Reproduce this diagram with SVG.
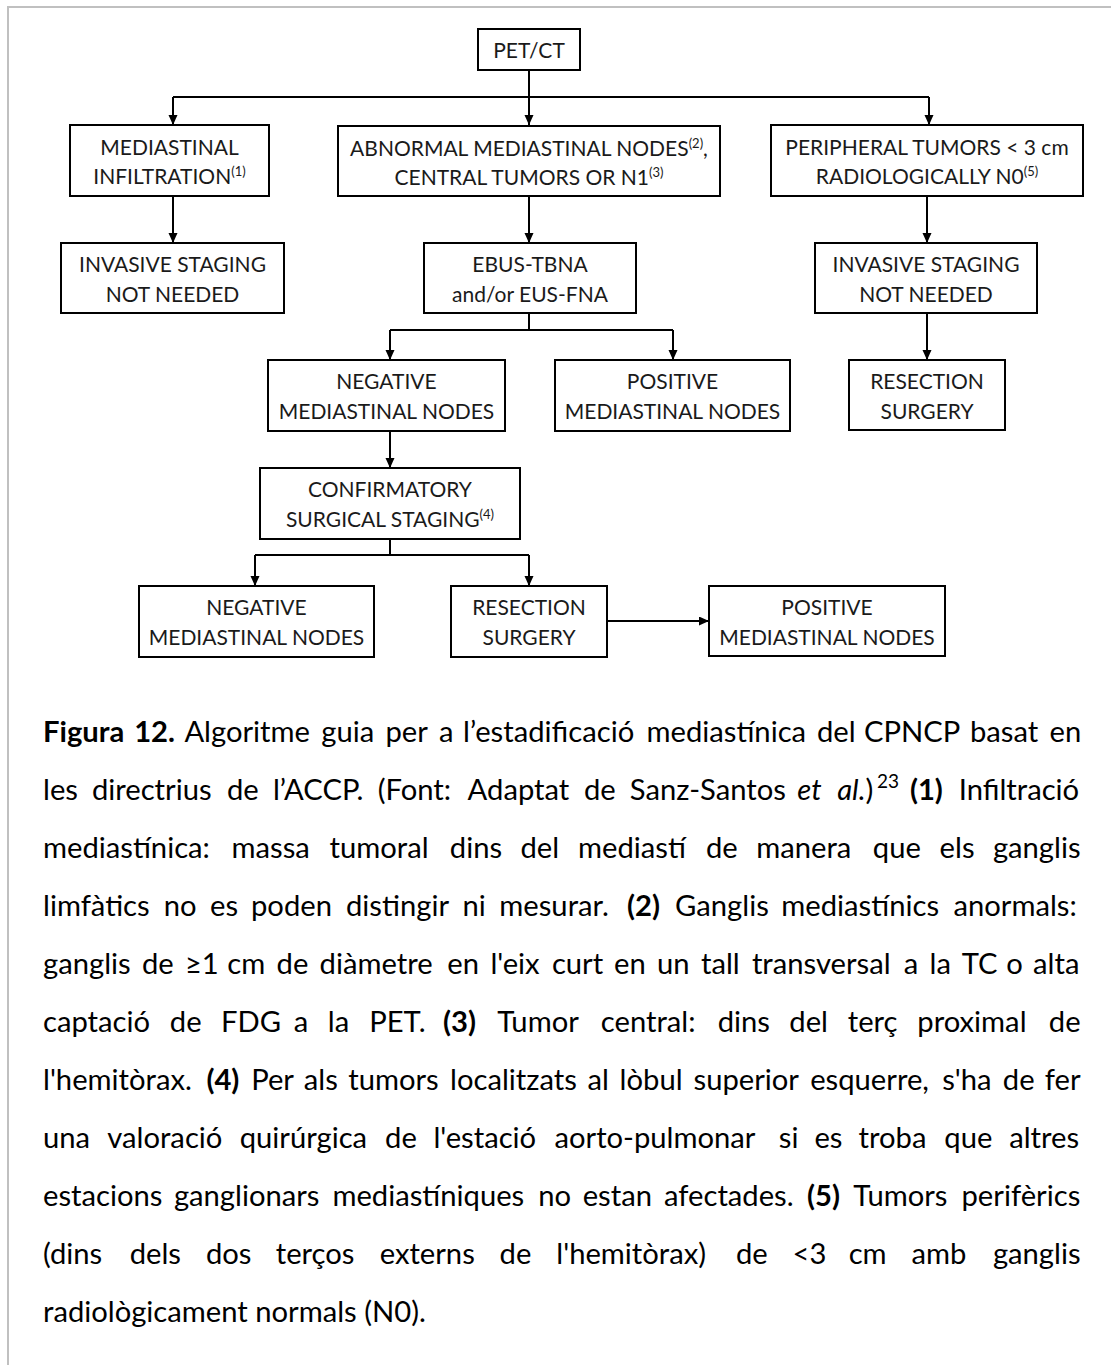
<svg xmlns="http://www.w3.org/2000/svg" width="1111" height="1365" viewBox="0 0 1111 1365">
  <style>
    .box rect { fill: #ffffff; stroke: #000000; stroke-width: 2; }
    .box text { font-family: Lato, "Open Sans", "Liberation Sans", sans-serif; font-size: 21px; fill: #1a1a1a; text-anchor: middle; }
    .sup { font-size: 13px; }
    .wire { fill: none; stroke: #000000; stroke-width: 2; }
    .cap { font-family: Lato, "Open Sans", "Liberation Sans", sans-serif; font-size: 29.2px; fill: #000000; }
    .b { font-weight: bold; }
    .i { font-style: italic; }
    .frame { stroke: #c0c0c0; stroke-width: 2; fill: none; }
  </style>
  <defs>
    <marker id="arrow" markerUnits="userSpaceOnUse" markerWidth="10" markerHeight="10" refX="10" refY="4.5" orient="auto">
      <path d="M0,0 L10,4.5 L0,9 z" fill="#000000"/>
    </marker>
  </defs>

  <rect width="1111" height="1365" fill="#ffffff"/>
  <!-- page frame (top and left edges) -->
  <path class="frame" d="M8,1365 V7 H1111"/>

  <!-- connectors -->
  <g id="connectors">
    <path class="wire" d="M529,70 V125" marker-end="url(#arrow)"/>
    <path class="wire" d="M173,97 H929"/>
    <path class="wire" d="M173,97 V125" marker-end="url(#arrow)"/>
    <path class="wire" d="M929,97 V125" marker-end="url(#arrow)"/>
    <path class="wire" d="M173,196 V243" marker-end="url(#arrow)"/>
    <path class="wire" d="M529,196 V243" marker-end="url(#arrow)"/>
    <path class="wire" d="M927,196 V243" marker-end="url(#arrow)"/>
    <path class="wire" d="M529,313 V330"/>
    <path class="wire" d="M390,330 H673"/>
    <path class="wire" d="M390,330 V360" marker-end="url(#arrow)"/>
    <path class="wire" d="M673,330 V360" marker-end="url(#arrow)"/>
    <path class="wire" d="M927,313 V360" marker-end="url(#arrow)"/>
    <path class="wire" d="M390,431 V468" marker-end="url(#arrow)"/>
    <path class="wire" d="M390,539 V555"/>
    <path class="wire" d="M255,555 H529"/>
    <path class="wire" d="M255,555 V586" marker-end="url(#arrow)"/>
    <path class="wire" d="M529,555 V586" marker-end="url(#arrow)"/>
    <path class="wire" d="M607,621 H709" marker-end="url(#arrow)"/>
  </g>

  <!-- nodes -->
  <g id="pet-ct" class="box">
    <rect x="478" y="29" width="102" height="41"/>
    <text x="529" y="58">PET/CT</text>
  </g>
  <g id="mediastinal-infiltration" class="box">
    <rect x="70" y="125" width="199" height="71"/>
    <text x="169.5" y="155">MEDIASTINAL</text>
    <text x="169.5" y="184">INFILTRATION<tspan class="sup" dy="-8">(1)</tspan></text>
  </g>
  <g id="abnormal-nodes" class="box">
    <rect x="338" y="126" width="382" height="70"/>
    <text x="529" y="156">ABNORMAL MEDIASTINAL NODES<tspan class="sup" dy="-8">(2)</tspan><tspan dy="8">,</tspan></text>
    <text x="529" y="185">CENTRAL TUMORS OR N1<tspan class="sup" dy="-8">(3)</tspan></text>
  </g>
  <g id="peripheral-tumors" class="box">
    <rect x="771" y="125" width="312" height="71"/>
    <text x="927" y="155">PERIPHERAL TUMORS &lt; 3 cm</text>
    <text x="927" y="184">RADIOLOGICALLY N0<tspan class="sup" dy="-8">(5)</tspan></text>
  </g>
  <g id="invasive-left" class="box">
    <rect x="61" y="243" width="223" height="70"/>
    <text x="172.5" y="272">INVASIVE STAGING</text>
    <text x="172.5" y="302">NOT NEEDED</text>
  </g>
  <g id="ebus" class="box">
    <rect x="424" y="243" width="212" height="70"/>
    <text x="530" y="272">EBUS-TBNA</text>
    <text x="530" y="302">and/or EUS-FNA</text>
  </g>
  <g id="invasive-right" class="box">
    <rect x="815" y="243" width="222" height="70"/>
    <text x="926" y="272">INVASIVE STAGING</text>
    <text x="926" y="302">NOT NEEDED</text>
  </g>
  <g id="negative-1" class="box">
    <rect x="268" y="360" width="237" height="71"/>
    <text x="386.5" y="389">NEGATIVE</text>
    <text x="386.5" y="419">MEDIASTINAL NODES</text>
  </g>
  <g id="positive-1" class="box">
    <rect x="555" y="360" width="235" height="71"/>
    <text x="672.5" y="389">POSITIVE</text>
    <text x="672.5" y="419">MEDIASTINAL NODES</text>
  </g>
  <g id="resection-1" class="box">
    <rect x="849" y="360" width="156" height="70"/>
    <text x="927" y="389">RESECTION</text>
    <text x="927" y="419">SURGERY</text>
  </g>
  <g id="confirmatory" class="box">
    <rect x="260" y="468" width="260" height="71"/>
    <text x="390" y="497">CONFIRMATORY</text>
    <text x="390" y="527">SURGICAL STAGING<tspan class="sup" dy="-8">(4)</tspan></text>
  </g>
  <g id="negative-2" class="box">
    <rect x="139" y="586" width="235" height="71"/>
    <text x="256.5" y="615">NEGATIVE</text>
    <text x="256.5" y="645">MEDIASTINAL NODES</text>
  </g>
  <g id="resection-2" class="box">
    <rect x="451" y="586" width="156" height="71"/>
    <text x="529" y="615">RESECTION</text>
    <text x="529" y="645">SURGERY</text>
  </g>
  <g id="positive-2" class="box">
    <rect x="709" y="586" width="236" height="70"/>
    <text x="827" y="615">POSITIVE</text>
    <text x="827" y="645">MEDIASTINAL NODES</text>
  </g>

  <!-- caption, justified: each word placed at its own x between 43 and 1081 -->
  <g id="caption" class="cap">
    <text y="742"><tspan x="43" class="b">Figura</tspan><tspan x="134.2" class="b">12.</tspan><tspan x="184.4">Algoritme</tspan><tspan x="321.3">guia</tspan><tspan x="385.4">per</tspan><tspan x="439">a</tspan><tspan x="463">l’estadificació</tspan><tspan x="646.5">mediastínica</tspan><tspan x="817">del</tspan><tspan x="864">CPNCP</tspan><tspan x="970">basat</tspan><tspan x="1049.5">en</tspan></text>
    <text y="800"><tspan x="43">les</tspan><tspan x="91.9">directrius</tspan><tspan x="227">de</tspan><tspan x="272.9">l’ACCP.</tspan><tspan x="377.7">(Font:</tspan><tspan x="467.6">Adaptat</tspan><tspan x="583.9">de</tspan><tspan x="629.8">Sanz-Santos</tspan><tspan x="797.3" class="i">et</tspan><tspan x="837.2"><tspan class="i">al.</tspan>)</tspan><tspan x="877" dy="-12" font-size="19">23</tspan><tspan x="909.9" dy="12" class="b">(1)</tspan><tspan x="958.7">Infiltració</tspan></text>
    <text y="858"><tspan x="43">mediastínica:</tspan><tspan x="231.5">massa</tspan><tspan x="329.5">tumoral</tspan><tspan x="449.8">dins</tspan><tspan x="520.5">del</tspan><tspan x="578">mediastí</tspan><tspan x="705.9">de</tspan><tspan x="756.2">manera</tspan><tspan x="872.8">que</tspan><tspan x="939.6">els</tspan><tspan x="992.9">ganglis</tspan></text>
    <text y="916"><tspan x="43">limfàtics</tspan><tspan x="163.8">no</tspan><tspan x="210">es</tspan><tspan x="251">poden</tspan><tspan x="346">distingir</tspan><tspan x="462.5">ni</tspan><tspan x="499.3">mesurar.</tspan><tspan x="627" class="b">(2)</tspan><tspan x="675.1">Ganglis</tspan><tspan x="781.3">mediastínics</tspan><tspan x="953.5">anormals:</tspan></text>
    <text y="974"><tspan x="43">ganglis</tspan><tspan x="141.9">de</tspan><tspan x="184.9">≥1</tspan><tspan x="227.3">cm</tspan><tspan x="276.6">de</tspan><tspan x="319.6">diàmetre</tspan><tspan x="447.3">en</tspan><tspan x="490.4">l'eix</tspan><tspan x="551.9">curt</tspan><tspan x="614.1">en</tspan><tspan x="657.1">un</tspan><tspan x="701">tall</tspan><tspan x="751.9">transversal</tspan><tspan x="903.7">a</tspan><tspan x="929.6">la</tspan><tspan x="961.7">TC</tspan><tspan x="1006.2">o</tspan><tspan x="1033.1">alta</tspan></text>
    <text y="1032"><tspan x="43">captació</tspan><tspan x="169.8">de</tspan><tspan x="221">FDG</tspan><tspan x="293.7">a</tspan><tspan x="327.8">la</tspan><tspan x="369.2">PET.</tspan><tspan x="443.1" class="b">(3)</tspan><tspan x="497.2">Tumor</tspan><tspan x="600.8">central:</tspan><tspan x="717.7">dins</tspan><tspan x="789.3">del</tspan><tspan x="847.8">terç</tspan><tspan x="917.3">proximal</tspan><tspan x="1048.8">de</tspan></text>
    <text y="1090"><tspan x="43">l'hemitòrax.</tspan><tspan x="206.4" class="b">(4)</tspan><tspan x="251.2">Per</tspan><tspan x="303.8">als</tspan><tspan x="348.2">tumors</tspan><tspan x="450.1">localitzats</tspan><tspan x="587.5">al</tspan><tspan x="619.6">lòbul</tspan><tspan x="693.5">superior</tspan><tspan x="810.2">esquerre,</tspan><tspan x="942.2">s'ha</tspan><tspan x="1002.8">de</tspan><tspan x="1044.8">fer</tspan></text>
    <text y="1148"><tspan x="43">una</tspan><tspan x="107.3">valoració</tspan><tspan x="239.7">quirúrgica</tspan><tspan x="385.1">de</tspan><tspan x="433.4">l'estació</tspan><tspan x="554.5">aorto-pulmonar</tspan><tspan x="778.8">si</tspan><tspan x="814.4">es</tspan><tspan x="858.5">troba</tspan><tspan x="944.3">que</tspan><tspan x="1009.2">altres</tspan></text>
    <text y="1206"><tspan x="43">estacions</tspan><tspan x="173.9">ganglionars</tspan><tspan x="332.4">mediastíniques</tspan><tspan x="538.3">no</tspan><tspan x="582.7">estan</tspan><tspan x="664">afectades.</tspan><tspan x="807.1" class="b">(5)</tspan><tspan x="853.3">Tumors</tspan><tspan x="961.5">perifèrics</tspan></text>
    <text y="1264"><tspan x="43">(dins</tspan><tspan x="129.7">dels</tspan><tspan x="205.9">dos</tspan><tspan x="275.8">terços</tspan><tspan x="379.7">externs</tspan><tspan x="499.6">de</tspan><tspan x="556.3">l'hemitòrax)</tspan><tspan x="735.9">de</tspan><tspan x="792.6">&lt;3</tspan><tspan x="848.7">cm</tspan><tspan x="911.6">amb</tspan><tspan x="992.9">ganglis</tspan></text>
    <text y="1322" x="43">radiològicament normals (N0).</text>
  </g>
</svg>
